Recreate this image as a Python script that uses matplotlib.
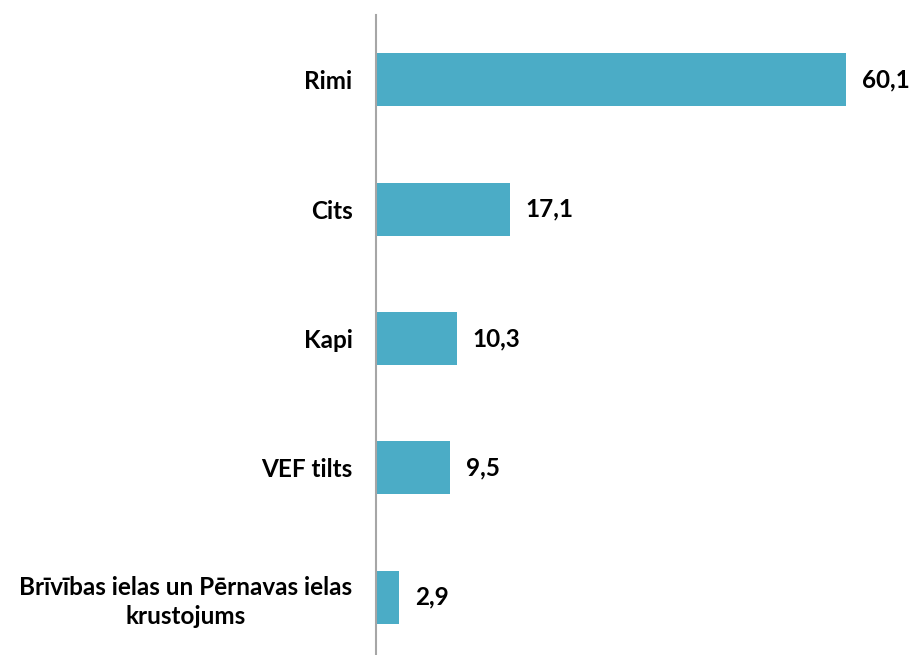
import matplotlib
matplotlib.use("Agg")
import matplotlib.pyplot as plt

categories = ["Rimi", "Cits", "Kapi", "VEF tilts",
              "Brīvības ielas un Pērnavas ielas\nkrustojums"]
values = [60.1, 17.1, 10.3, 9.5, 2.9]
value_labels = ["60,1", "17,1", "10,3", "9,5", "2,9"]

plt.rcParams['font.family'] = ['Lato', 'DejaVu Sans']

fig = plt.figure(figsize=(9.14, 6.55), dpi=100)
ax = fig.add_axes([376/914, -7/655, 1 - 376/914, 647/655])

ypos = list(range(len(categories)))
ax.barh(ypos, values, height=0.41, color="#4BACC6")
ax.set_ylim(len(categories) - 0.5, -0.5)
ax.set_xlim(0, (914 - 376) / 7.82)

for y, v, lab in zip(ypos, values, value_labels):
    ax.annotate(lab, (v, y), xytext=(16, 0), textcoords="offset pixels",
                va="center", ha="left", fontsize=17.5, fontweight="bold", color="#000000")

ax.set_yticks(ypos)
ax.set_yticklabels(categories, fontsize=17.5, fontweight="bold", ha="right",
                   multialignment="center", linespacing=1.3)
ax.tick_params(axis="y", length=0, pad=17)

ax.set_xticks([])
for s in ["top", "right", "bottom"]:
    ax.spines[s].set_visible(False)
ax.spines["left"].set_color("#A6A6A6")
ax.spines["left"].set_linewidth(1.5)

fig.savefig("out.png", dpi=100)
